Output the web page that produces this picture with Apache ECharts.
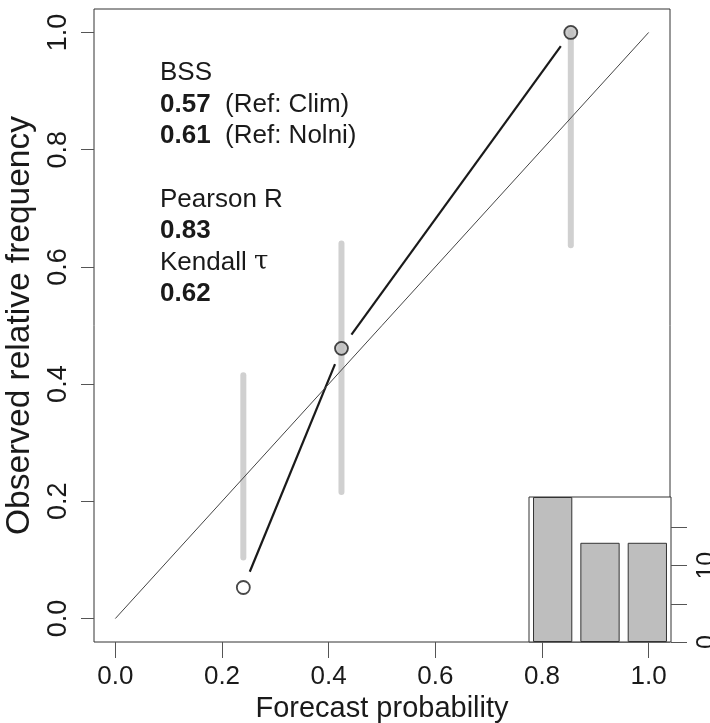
<!DOCTYPE html>
<html lang="en">
<head>
<meta charset="utf-8"/>
<script src="https://cdn.jsdelivr.net/npm/echarts@6/dist/echarts.min.js"></script>
<style>
    html, body { margin: 0; padding: 0; background: #fff; }
    #main { width: 710px; height: 723px; }
</style>
</head>
<body>
<div id="main"></div>
<script>
    // reliability diagram values
    var forecastProb = [0.240, 0.424, 0.854];
    var observedFreq = [0.053, 0.461, 1.000];
    var ciLow = [0.104, 0.216, 0.637];
    var ciHigh = [0.415, 0.640, 1.000];
    var xTicks = [0, 0.2, 0.4, 0.6, 0.8, 1.0];
    var yTicks = [0, 0.2, 0.4, 0.6, 0.8, 1.0];

    // sharpness histogram (inset)
    var histBins = ['0.24', '0.42', '0.85'];
    var histCounts = [19, 13, 13];
    var histTicks = [0, 5, 10, 15];
    var histLabels = [0, 10];

    // scores
    var bssValues = ['0.57', '0.61'];
    var bssRefs = ['Clim', 'Nolni'];
    var pearsonR = '0.83';
    var kendallTau = '0.62';

    var pointFill = ['#ffffff', '#bebebe', '#bebebe'];
    var FONT = '"Liberation Sans", Arial, Helvetica, sans-serif';
    var INK = '#1a1a1a';

    var chart = echarts.init(document.getElementById('main'));

    var scoreText = [
        '{n|BSS}',
        '{b|' + bssValues[0] + '}{n|  (Ref: ' + bssRefs[0] + ')}',
        '{b|' + bssValues[1] + '}{n|  (Ref: ' + bssRefs[1] + ')}',
        '{n| }',
        '{n|Pearson R}',
        '{b|' + pearsonR + '}',
        '{n|Kendall }{g|τ}',
        '{b|' + kendallTau + '}'
    ].join('\n');

    var option = {
        animation: false,
        backgroundColor: '#fff',
        textStyle: { fontFamily: FONT, color: INK },
        grid: [
            { left: 94, top: 9, width: 576, height: 633, outerBoundsMode: 'none', containLabel: false,
                show: true, borderColor: '#333', borderWidth: 1, backgroundColor: 'transparent' },
            { left: 529, top: 497, width: 142, height: 145, outerBoundsMode: 'none', containLabel: false,
                show: true, borderColor: '#333', borderWidth: 1, backgroundColor: '#fff' }
        ],
        xAxis: [
            {
                type: 'value', gridIndex: 0, min: -0.04, max: 1.04,
                axisLine: { show: false, onZero: false },
                splitLine: { show: false },
                axisTick: { show: true, inside: false, length: 16, customValues: xTicks, lineStyle: { color: '#555' } },
                axisLabel: { customValues: xTicks, fontSize: 26, margin: 22, color: INK, fontFamily: FONT,
                    formatter: function (v) { return v.toFixed(1); } },
                name: 'Forecast probability', nameLocation: 'middle', nameGap: 42,
                nameTextStyle: { fontSize: 29, color: INK, fontFamily: FONT }
            },
            {
                type: 'category', gridIndex: 1, data: histBins, boundaryGap: true,
                axisLine: { show: false }, axisTick: { show: false }, axisLabel: { show: false }
            }
        ],
        yAxis: [
            {
                type: 'value', gridIndex: 0, min: -0.04, max: 1.04,
                axisLine: { show: false, onZero: false },
                splitLine: { show: false },
                axisTick: { show: true, inside: false, length: 13, customValues: yTicks, lineStyle: { color: '#555' } },
                axisLabel: { customValues: yTicks, fontSize: 27, margin: 22, rotate: 90, color: INK, fontFamily: FONT,
                    formatter: function (v) { return v.toFixed(1); } },
                name: 'Observed relative frequency', nameLocation: 'middle', nameGap: 52,
                nameTextStyle: { fontSize: 33.5, color: INK, fontFamily: FONT }
            },
            {
                type: 'value', gridIndex: 1, position: 'right', min: 0, max: 19,
                axisLine: { show: false, onZero: false },
                splitLine: { show: false },
                axisTick: { show: true, inside: false, length: 16, customValues: histTicks, lineStyle: { color: '#555' } },
                axisLabel: { customValues: histLabels, fontSize: 25, margin: 24, rotate: 90, color: INK, fontFamily: FONT }
            }
        ],
        graphic: [{
            type: 'text', left: 160, top: 60, z: 10,
            style: {
                text: scoreText,
                fill: INK,
                rich: {
                    n: { fontSize: 26, fontFamily: FONT, lineHeight: 31.6, fill: INK },
                    b: { fontSize: 26, fontFamily: FONT, fontWeight: 'bold', lineHeight: 31.6, fill: INK },
                    g: { fontSize: 26, fontFamily: '"DejaVu Serif", serif', lineHeight: 31.6, fill: INK }
                }
            }
        }],
        series: [
            {
                // perfect reliability diagonal
                type: 'line', xAxisIndex: 0, yAxisIndex: 0,
                data: [[0, 0], [1, 1]], symbol: 'none', silent: true,
                lineStyle: { color: '#444', width: 1 }
            },
            {
                // consistency bars
                type: 'custom', xAxisIndex: 0, yAxisIndex: 0,
                data: forecastProb.map(function (x, i) { return [x, ciLow[i], ciHigh[i]]; }),
                encode: { x: 0, y: [1, 2] },
                renderItem: function (params, api) {
                    var p1 = api.coord([api.value(0), api.value(1)]);
                    var p2 = api.coord([api.value(0), api.value(2)]);
                    return {
                        type: 'line',
                        shape: { x1: p1[0], y1: p1[1], x2: p2[0], y2: p2[1] },
                        style: { stroke: '#d0d0d0', lineWidth: 6, lineCap: 'round' }
                    };
                }
            },
            {
                // reliability curve, R type="b" (gaps at points)
                type: 'custom', xAxisIndex: 0, yAxisIndex: 0, z: 3,
                data: forecastProb.slice(1).map(function (x, i) {
                    return [forecastProb[i], observedFreq[i], x, observedFreq[i + 1]];
                }),
                encode: { x: [0, 2], y: [1, 3] },
                renderItem: function (params, api) {
                    var a = api.coord([api.value(0), api.value(1)]);
                    var b = api.coord([api.value(2), api.value(3)]);
                    var dx = b[0] - a[0], dy = b[1] - a[1];
                    var g = 17 / Math.sqrt(dx * dx + dy * dy);
                    return {
                        type: 'line',
                        shape: { x1: a[0] + dx * g, y1: a[1] + dy * g, x2: b[0] - dx * g, y2: b[1] - dy * g },
                        style: { stroke: INK, lineWidth: 2.2 }
                    };
                }
            },
            {
                type: 'scatter', xAxisIndex: 0, yAxisIndex: 0, z: 4,
                symbol: 'circle', symbolSize: 13,
                data: forecastProb.map(function (x, i) {
                    return { value: [x, observedFreq[i]], itemStyle: { color: pointFill[i] } };
                }),
                itemStyle: { borderColor: INK, borderWidth: 1.8 }
            },
            {
                type: 'bar', xAxisIndex: 1, yAxisIndex: 1,
                data: histCounts, barCategoryGap: '17%',
                itemStyle: { color: '#bebebe', borderColor: '#333', borderWidth: 1 }
            }
        ]
    };

    chart.setOption(option);
</script>
</body>
</html>
